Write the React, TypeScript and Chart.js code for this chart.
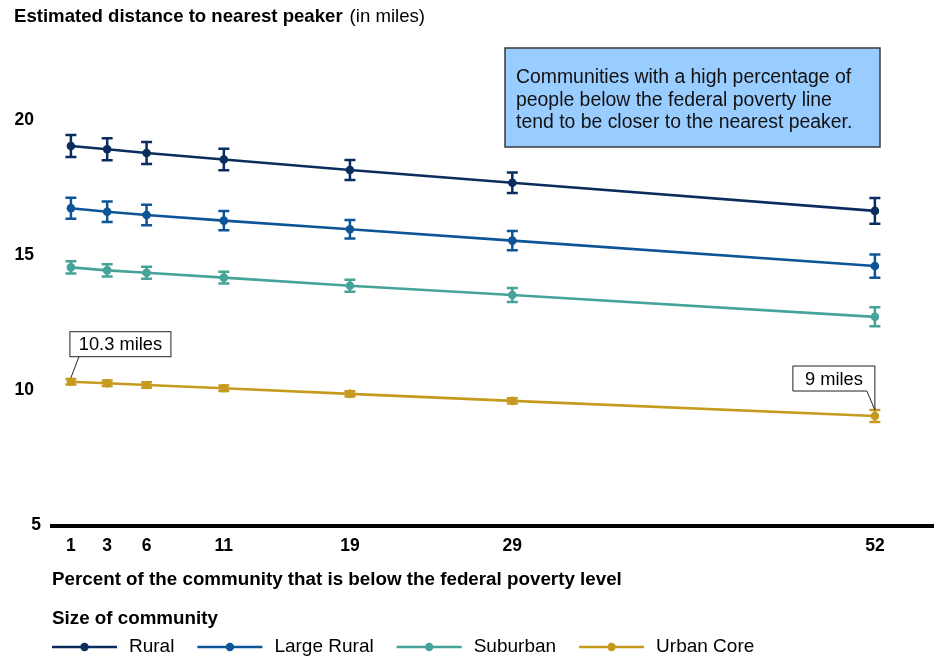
import React, { useEffect, useRef } from "react";
import { Chart, registerables } from "chart.js";

Chart.register(...registerables);

// ---- data ----
const xPositions = [1, 3.3, 5.8, 10.7, 18.7, 29, 52];
const xTickLabels = ["1", "3", "6", "11", "19", "29", "52"];
const yTickValues = [5, 10, 15, 20];
const seriesNames = ["Rural", "Large Rural", "Suburban", "Urban Core"];
const ruralValues = [19.04, 18.92, 18.78, 18.54, 18.15, 17.68, 16.64];
const ruralErrors = [0.41, 0.41, 0.41, 0.4, 0.37, 0.38, 0.48];
const largeRuralValues = [16.74, 16.61, 16.49, 16.28, 15.96, 15.54, 14.6];
const largeRuralErrors = [0.39, 0.38, 0.38, 0.36, 0.34, 0.36, 0.43];
const suburbanValues = [14.55, 14.44, 14.35, 14.17, 13.87, 13.53, 12.72];
const suburbanErrors = [0.23, 0.23, 0.22, 0.22, 0.22, 0.26, 0.35];
const urbanValues = [10.32, 10.26, 10.2, 10.08, 9.87, 9.61, 9.05];
const urbanErrors = [0.1, 0.1, 0.1, 0.1, 0.1, 0.1, 0.22];
const seriesColors = ["#0a2d5e", "#0d5596", "#46a39a", "#c69a1f"];

const titleBold = "Estimated distance to nearest peaker";
const titleNormal = "(in miles)";
const xTitle = "Percent of the community that is below the federal poverty level";
const legendTitle = "Size of community";
const noteLines = [
  "Communities with a high percentage of",
  "people below the federal poverty line",
  "tend to be closer to the nearest peaker.",
];

const FONT = "'Liberation Sans', Arial, sans-serif";

const allValues = [ruralValues, largeRuralValues, suburbanValues, urbanValues];
const allErrors = [ruralErrors, largeRuralErrors, suburbanErrors, urbanErrors];

const errorBarPlugin = {
  id: "errorBars",
  afterDatasetsDraw(chart: any) {
    const ctx = chart.ctx;
    const yScale = chart.scales.y;
    chart.data.datasets.forEach((ds: any, di: number) => {
      const meta = chart.getDatasetMeta(di);
      ctx.save();
      ctx.strokeStyle = ds.borderColor;
      ctx.lineWidth = 2.5;
      meta.data.forEach((pt: any, i: number) => {
        const v = allValues[di][i];
        const e = allErrors[di][i];
        const yt = yScale.getPixelForValue(v + e);
        const yb = yScale.getPixelForValue(v - e);
        const x = pt.x;
        ctx.beginPath();
        ctx.moveTo(x, yt);
        ctx.lineTo(x, yb);
        ctx.moveTo(x - 5.5, yt);
        ctx.lineTo(x + 5.5, yt);
        ctx.moveTo(x - 5.5, yb);
        ctx.lineTo(x + 5.5, yb);
        ctx.stroke();
      });
      ctx.restore();
    });
  },
};

const decorPlugin = {
  id: "decor",
  afterDraw(chart: any) {
    const ctx = chart.ctx;
    const yScale = chart.scales.y;
    const area = chart.chartArea;
    ctx.save();
    ctx.fillStyle = "#000";
    ctx.textBaseline = "middle";

    // title
    ctx.textAlign = "left";
    ctx.font = `bold 18.6px ${FONT}`;
    ctx.fillText(titleBold, 14, 17);
    const tw = ctx.measureText(titleBold).width;
    ctx.font = `18.6px ${FONT}`;
    ctx.fillText(titleNormal, 14 + tw + 7, 17);

    // y tick labels
    ctx.font = `bold 17.5px ${FONT}`;
    ctx.textAlign = "right";
    yTickValues.forEach((v) => {
      const y = yScale.getPixelForValue(v);
      const x = v === yScale.min ? area.left - 11 : 34;
      ctx.fillText(String(v), x, y);
    });

    // note box
    ctx.fillStyle = "#99ccff";
    ctx.fillRect(505, 48, 375, 99);
    ctx.strokeStyle = "#3a3a3a";
    ctx.lineWidth = 1.5;
    ctx.strokeRect(505, 48, 375, 99);
    ctx.fillStyle = "#111";
    ctx.textAlign = "left";
    ctx.font = `19.4px ${FONT}`;
    noteLines.forEach((l, i) => ctx.fillText(l, 516, 78 + i * 22.5));

    // callouts on urban core
    const urbanMeta = chart.getDatasetMeta(3);
    const p0 = urbanMeta.data[0];
    const pN = urbanMeta.data[urbanMeta.data.length - 1];
    ctx.font = `18.3px ${FONT}`;
    ctx.strokeStyle = "#222";
    ctx.lineWidth = 1;
    // first
    {
      const label = `${urbanValues[0].toFixed(1)} miles`;
      const ax = p0.x, ay = p0.y;
      const left = ax - 1, top = ay - 50, w = 101, h = 25;
      ctx.fillStyle = "#fff";
      ctx.fillRect(left, top, w, h);
      ctx.strokeRect(left, top, w, h);
      ctx.beginPath();
      ctx.moveTo(left + 9, top + h);
      ctx.lineTo(ax, ay - 4);
      ctx.stroke();
      ctx.fillStyle = "#000";
      ctx.textAlign = "center";
      ctx.fillText(label, left + w / 2, top + h / 2 + 1);
    }
    // last
    {
      const label = `${Math.round(urbanValues[urbanValues.length - 1])} miles`;
      const ax = pN.x, ay = pN.y;
      const w = 82, h = 25;
      const left = ax - w, top = ay - 50;
      ctx.fillStyle = "#fff";
      ctx.fillRect(left, top, w, h);
      ctx.beginPath();
      ctx.moveTo(left, top);
      ctx.lineTo(ax, top);
      ctx.lineTo(ax, ay - 6);
      ctx.lineTo(ax - 8, top + h);
      ctx.lineTo(left, top + h);
      ctx.closePath();
      ctx.stroke();
      ctx.fillStyle = "#000";
      ctx.textAlign = "center";
      ctx.fillText(label, left + w / 2, top + h / 2 + 1);
    }

    // x title
    ctx.textAlign = "left";
    ctx.fillStyle = "#000";
    ctx.font = `bold 18.8px ${FONT}`;
    ctx.fillText(xTitle, 52, 580);
    // legend title
    ctx.fillText(legendTitle, 52, 619);

    // legend
    ctx.font = `19px ${FONT}`;
    let x = 52;
    const ly = 647;
    chart.data.datasets.forEach((ds: any) => {
      ctx.strokeStyle = ds.borderColor;
      ctx.lineWidth = 2.5;
      ctx.beginPath();
      ctx.moveTo(x, ly);
      ctx.lineTo(x + 65, ly);
      ctx.stroke();
      ctx.fillStyle = ds.borderColor;
      ctx.beginPath();
      ctx.arc(x + 32.5, ly, 4.2, 0, Math.PI * 2);
      ctx.fill();
      ctx.fillStyle = "#000";
      ctx.fillText(ds.label, x + 77, ly);
      x += 77 + ctx.measureText(ds.label).width + 23;
    });
    ctx.restore();
  },
};

export default function App() {
  const ref = useRef<HTMLCanvasElement | null>(null);
  useEffect(() => {
    if (!ref.current) return;
    document.body.style.margin = "0";
    document.body.style.overflow = "hidden";
    const chart = new Chart(ref.current, {
      type: "line",
      data: {
        datasets: seriesNames.map((name, si) => ({
          label: name,
          data: xPositions.map((x, i) => ({ x, y: allValues[si][i] })),
          borderColor: seriesColors[si],
          backgroundColor: seriesColors[si],
          pointBackgroundColor: seriesColors[si],
          pointBorderWidth: 0,
          pointRadius: 4.3,
          borderWidth: 2.6,
          tension: 0,
        })),
      },
      options: {
        responsive: false,
        animation: false,
        layout: { autoPadding: false, padding: { left: 52, right: 0, top: 66, bottom: 0 } },
        plugins: {
          legend: { display: false },
          title: { display: false },
          tooltip: { enabled: false },
        },
        scales: {
          x: {
            type: "linear",
            min: -0.2,
            max: 55.75,
            grid: { display: false, drawTicks: false },
            border: { display: true, color: "#000", width: 4 },
            afterBuildTicks: (scale: any) => {
              scale.ticks = xPositions.map((v) => ({ value: v }));
            },
            afterFit: (scale: any) => {
              scale.height = 134.5;
            },
            ticks: {
              autoSkip: false,
              maxRotation: 0,
              padding: 10,
              color: "#000",
              font: { family: FONT, size: 17.5, weight: "bold" },
              callback: (_v: any, i: number) => xTickLabels[i],
            },
          },
          y: {
            type: "linear",
            display: false,
            min: 5,
            max: 22,
          },
        },
      },
      plugins: [errorBarPlugin, decorPlugin],
    } as any);
    return () => chart.destroy();
  }, []);
  return (
    <div style={{ position: "absolute", left: 0, top: 0, width: 934, height: 660, overflow: "hidden", background: "#fff" }}>
      <canvas ref={ref} width={934} height={660} style={{ display: "block" }} />
    </div>
  );
}
